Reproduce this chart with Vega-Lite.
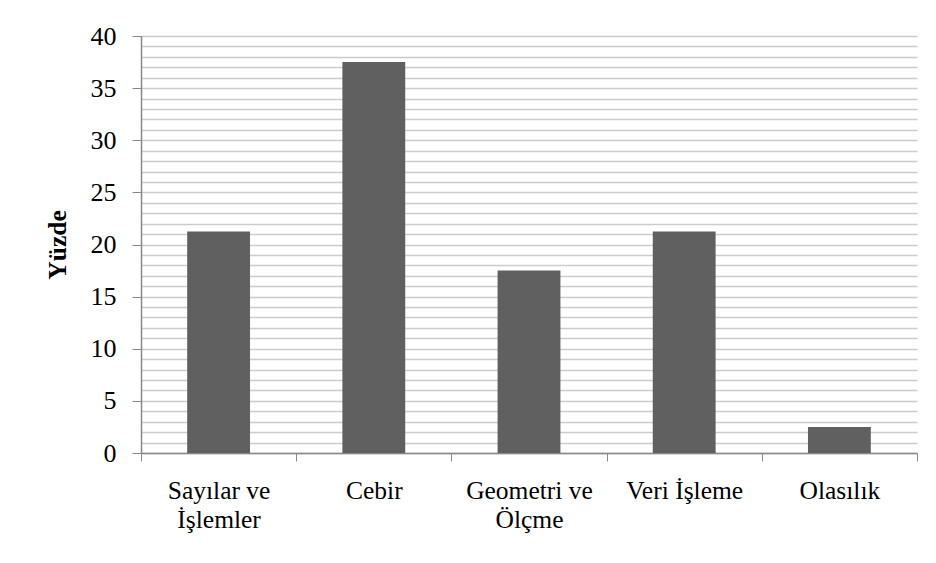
{
  "$schema": "https://vega.github.io/schema/vega-lite/v6.json",
  "width": 776,
  "height": 417,
  "autosize": "none",
  "padding": {"left": 141, "top": 36, "right": 19, "bottom": 110},
  "background": "white",
  "config": {"view": {"stroke": null}, "font": "Liberation Serif"},
  "data": {"values": [
    {"k": "Sayılar ve|İşlemler", "v": 21.25},
    {"k": "Cebir", "v": 37.5},
    {"k": "Geometri ve|Ölçme", "v": 17.5},
    {"k": "Veri İşleme", "v": 21.25},
    {"k": "Olasılık", "v": 2.5}
  ]},
  "mark": {"type": "bar", "color": "#606060", "width": {"band": 0.405}},
  "encoding": {
    "x": {
      "field": "k", "type": "nominal", "sort": null,
      "scale": {"paddingInner": 0, "paddingOuter": 0},
      "axis": {
        "title": null, "labelAngle": 0,
        "labelExpr": "split(datum.label, '|')",
        "labelFont": "Liberation Serif", "labelFontSize": 25.5, "labelColor": "#000000",
        "labelLineHeight": 29, "labelPadding": 17, "labelBaseline": "top",
        "tickBand": "extent", "tickSize": 8, "tickColor": "#888888", "tickWidth": 1,
        "domainColor": "#888888", "domainWidth": 1.5, "grid": false
      }
    },
    "y": {
      "field": "v", "type": "quantitative",
      "scale": {"domain": [0, 40], "nice": false},
      "axis": {
        "title": "Yüzde", "titleFont": "Liberation Serif", "titleFontSize": 25.5, "titleFontWeight": "bold",
        "titleColor": "#000000", "titleAngle": -90, "titleX": -84, "titleY": 208.5,
        "titleAlign": "center", "titleBaseline": "middle",
        "values": [0,1,2,3,4,5,6,7,8,9,10,11,12,13,14,15,16,17,18,19,20,21,22,23,24,25,26,27,28,29,30,31,32,33,34,35,36,37,38,39,40],
        "labelExpr": "datum.value % 5 === 0 ? datum.label : ''",
        "labelFont": "Liberation Serif", "labelFontSize": 26, "labelColor": "#000000",
        "labelPadding": 16, "tickSize": 9, "tickColor": "#888888",
        "tickOpacity": {"condition": {"test": "datum.value % 5 === 0", "value": 1}, "value": 0},
        "domainColor": "#888888", "domainWidth": 1.5,
        "grid": true, "gridColor": "#cccccc", "gridWidth": 1.5
      }
    }
  }
}
